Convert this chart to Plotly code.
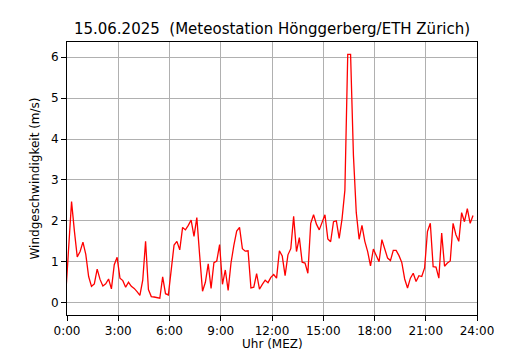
import plotly.graph_objects as go

# 10-minute wind speed values (m/s); first sample 10 min before 00:06 (clipped at axis)
start_min = -4
step_min = 10
speed = [
    0.25, 1.36, 2.47, 1.75, 1.12, 1.25, 1.48, 1.18, 0.64, 0.40,
    0.46, 0.82, 0.57, 0.41, 0.46, 0.58, 0.34, 0.93, 1.11, 0.60,
    0.54, 0.38, 0.50, 0.40, 0.35, 0.27, 0.18, 0.55, 1.50, 0.32,
    0.15, 0.14, 0.13, 0.11, 0.63, 0.22, 0.19, 0.75, 1.41, 1.50,
    1.29, 1.84, 1.78, 1.89, 2.02, 1.62, 2.08, 1.15, 0.28, 0.50,
    0.95, 0.35, 0.98, 1.02, 1.42, 0.45, 0.80, 0.30, 0.97, 1.40,
    1.75, 1.84, 1.32, 1.26, 1.27, 0.36, 0.38, 0.71, 0.33, 0.45,
    0.55, 0.49, 0.62, 0.69, 0.60, 1.27, 1.14, 0.66, 1.17, 1.32,
    2.11, 1.25, 1.59, 0.99, 0.97, 0.72, 1.94, 2.15, 1.92, 1.78,
    1.96, 2.15, 1.56, 1.49, 1.98, 2.00, 1.57, 2.05, 2.75, 6.07,
    6.07, 3.60, 2.20, 1.55, 1.89, 1.50, 1.25, 0.90, 1.31, 1.13,
    1.00, 1.54, 1.29, 1.09, 1.03, 1.28, 1.28, 1.15, 0.98, 0.58,
    0.36, 0.60, 0.72, 0.52, 0.66, 0.64, 0.85, 1.74, 1.94, 0.88,
    0.87, 0.60, 1.70, 0.89, 0.97, 1.02, 1.94, 1.66, 1.50, 2.20,
    1.98, 2.30, 1.94, 2.13,
]
hours = [(start_min + step_min * i) / 60 for i in range(len(speed))]

xtick_vals = [0, 3, 6, 9, 12, 15, 18, 21, 24]
xtick_text = ["0:00", "3:00", "6:00", "9:00", "12:00", "15:00", "18:00", "21:00", "24:00"]
ytick_vals = [0, 1, 2, 3, 4, 5, 6]

title = "15.06.2025  (Meteostation Hönggerberg/ETH Zürich)"
xlabel = "Uhr (MEZ)"
ylabel = "Windgeschwindigkeit (m/s)"

font = "DejaVu Sans"

# page body has an 8px default margin; figure is sized to fill the rest
W, H = 522, 342
L, R, T = 59, 53, 34
PH = 273
B = H - T - PH

fig = go.Figure()
fig.add_trace(go.Scatter(x=hours, y=speed, mode="lines",
                         line=dict(color="#ff0000", width=1.3),
                         showlegend=False, hoverinfo="skip"))

axis_common = dict(
    showline=True, linecolor="black", linewidth=1, mirror=True,
    ticks="outside", ticklen=5, tickwidth=1, tickcolor="black",
    showgrid=True, gridcolor="#b0b0b0", gridwidth=1,
    zeroline=False, automargin=False,
    tickfont=dict(family=font, size=12, color="black"),
)

fig.update_layout(
    width=W, height=H,
    margin=dict(l=L, r=R, t=T, b=B),
    paper_bgcolor="white", plot_bgcolor="white",
    title=dict(text=title, x=(L + (W - R)) / 2 / W, xanchor="center",
               y=1 - 21 / H, yanchor="middle",
               font=dict(family=font, size=15, color="black")),
    xaxis=dict(range=[0, 24], tickvals=xtick_vals, ticktext=xtick_text,
               **axis_common),
    yaxis=dict(range=[-0.3, 6.37], tickvals=ytick_vals,
               title=dict(text=ylabel, standoff=8,
                          font=dict(family=font, size=12, color="black")),
               **axis_common),
    annotations=[dict(text=xlabel, xref="paper", yref="paper",
                      x=0.5, y=-29 / PH, xanchor="center", yanchor="middle",
                      showarrow=False,
                      font=dict(family=font, size=12, color="black"))],
)

fig.write_html("out.html")
